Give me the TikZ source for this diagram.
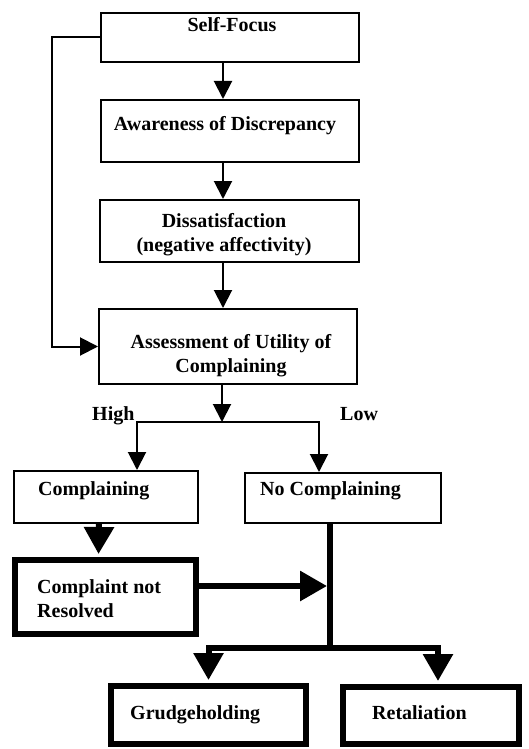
\documentclass[tikz,border=0pt]{standalone}
\usepackage{fontspec}
\setmainfont{Liberation Serif}
\usetikzlibrary{arrows.meta}

\tikzset{
  box/.style={draw, line width=2pt, inner sep=0pt},
  heavy/.style={box, line width=6pt},
  txt/.style={inner sep=0pt, font=\fontsize{20}{24}\selectfont\bfseries},
  arr/.style={line width=2pt, -{Triangle[width=18pt,length=18pt]}},
  bigarr/.style={line width=6pt, shorten >=3pt, -{Triangle[width=29pt,length=27pt]}},
}

\begin{document}
\begin{tikzpicture}[x=1pt,y=-1pt]
\useasboundingbox (0,0) rectangle (528,749);

% boxes
\node[box, minimum width=258pt, minimum height=49pt] (self) at (230,37.5) {};
\node[box, minimum width=258pt, minimum height=62pt] (aware) at (230,131) {};
\node[box, minimum width=259pt, minimum height=62pt] (dissat) at (229.5,231) {};
\node[box, minimum width=258pt, minimum height=75pt] (assess) at (228,346.5) {};
\node[box, minimum width=184pt, minimum height=52pt] (compl) at (106,497) {};
\node[box, minimum width=196pt, minimum height=50pt] (nocompl) at (343,498) {};
\node[heavy, minimum width=181pt, minimum height=74pt] (notres) at (105.5,597) {};
\node[heavy, minimum width=195pt, minimum height=58pt] (grudge) at (208.5,715) {};
\node[heavy, minimum width=176pt, minimum height=57pt] (retal) at (431,715.5) {};

% texts
\node[txt, anchor=base] (self-t) at (232,32) {Self-Focus};
\node[txt, anchor=base] (aware-t) at (225,131) {Awareness of Discrepancy};
\node[txt, anchor=base, align=center] (dissat-t) at (224,251) {Dissatisfaction\\(negative affectivity)};
\node[txt, anchor=base, align=center] (assess-t) at (231,372) {Assessment of Utility of\\Complaining};
\node[txt, anchor=base west] (compl-t) at (38,495) {Complaining};
\node[txt, anchor=base west] (nocompl-t) at (260,495) {No Complaining};
\node[txt, anchor=base west, align=left] (notres-t) at (37,617) {Complaint not\\Resolved};
\node[txt, anchor=base west] (grudge-t) at (130,719) {Grudgeholding};
\node[txt, anchor=base west] (retal-t) at (372,719) {Retaliation};
\node[txt, anchor=base west] (high) at (92,420) {High};
\node[txt, anchor=base west] (low) at (340,420) {Low};

% main line
\coordinate (spine) at (223,0);
\foreach \a/\b in {self/aware,aware/dissat,dissat/assess}
  \draw[arr] (\a.south -| spine) -- (\b.north -| spine);

\draw[arr] (self.west) -- ++(-48,0) |- (assess.west);

\coordinate (fork) at (222,422);
\draw[arr] (assess.south -| fork) -- (fork);
\draw[arr] (fork) -| ([xshift=31pt]compl.north);
\draw[arr] (fork) -| ([xshift=-24pt]nocompl.north);

% heavy part
\coordinate (merge) at (330,648);
\draw[bigarr] ([xshift=-7pt]compl.south) -- ([xshift=-7pt]notres.north);
\draw[line width=6pt] (nocompl.south -| merge) -- (merge);
\draw[bigarr] ([yshift=11pt]notres.east) -- ([yshift=11pt]notres.east -| merge);
\draw[bigarr] (merge) -| (grudge.north);
\draw[bigarr] (merge) -| ([xshift=7pt]retal.north);

\end{tikzpicture}
\end{document}
